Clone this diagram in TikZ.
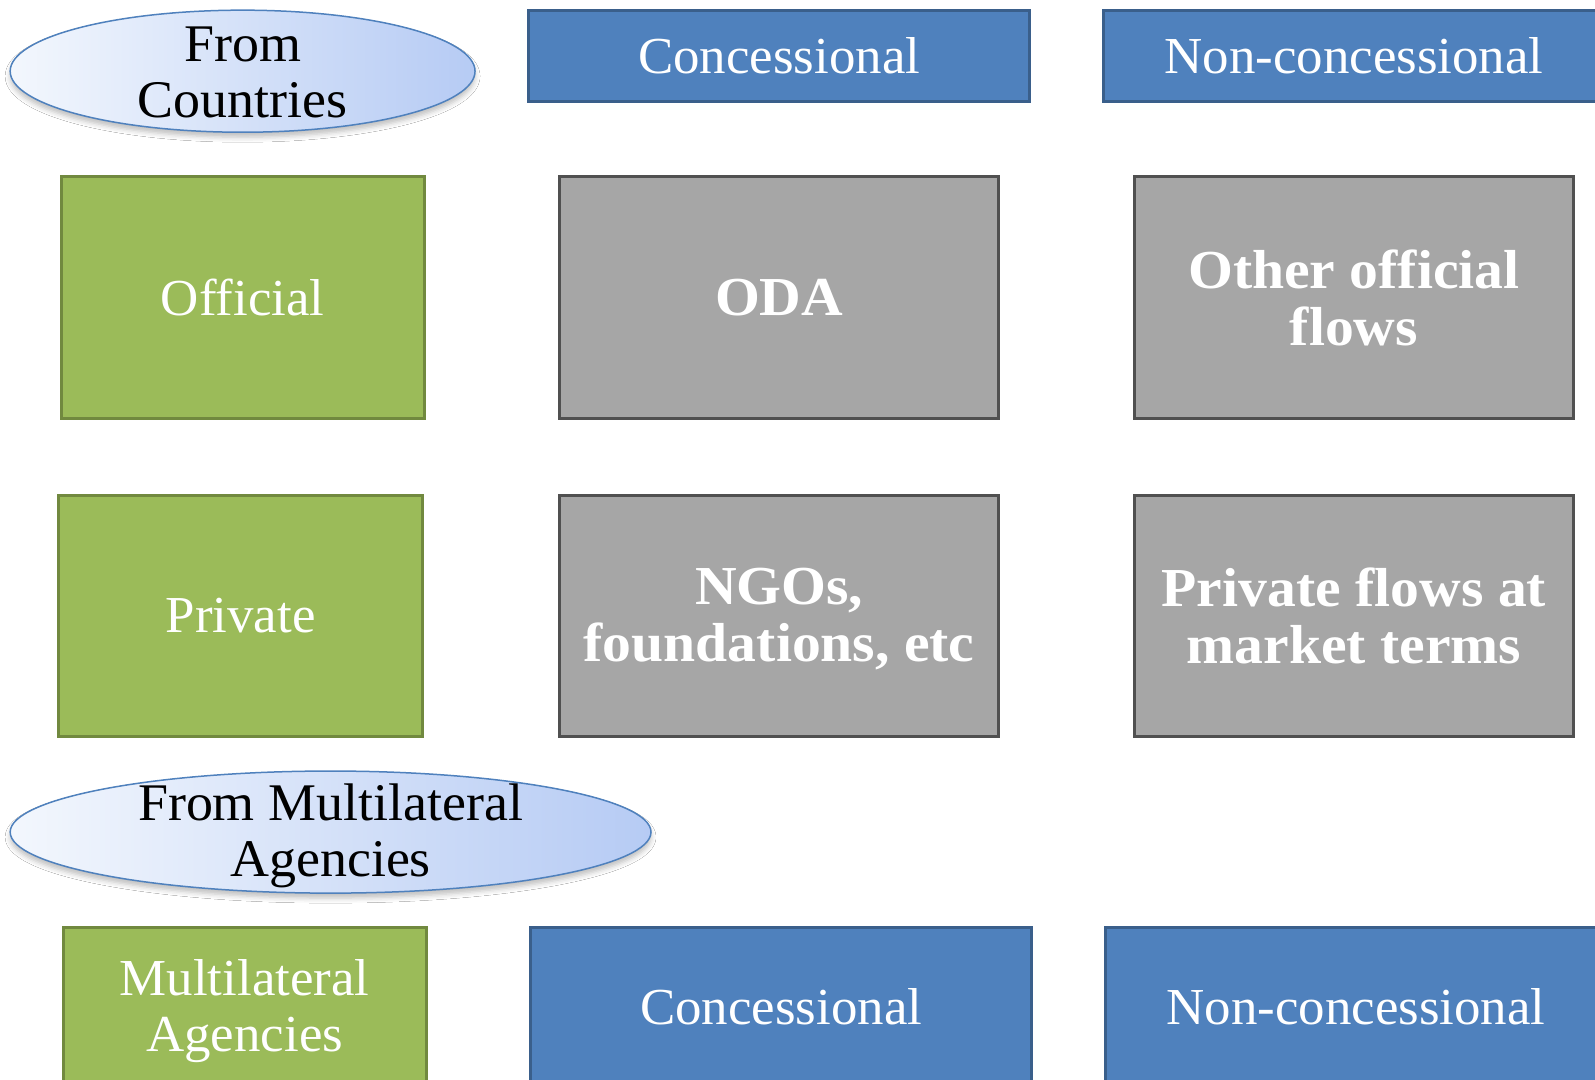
\documentclass[tikz,border=0pt]{standalone}
\usepackage{fontspec}
\setmainfont{Liberation Serif}
\newfontfamily\widebold{Liberation Serif Bold}[FakeStretch=1.05]
\newfontfamily\widereg{Liberation Serif}[FakeStretch=1.02]
\usetikzlibrary{shapes.geometric,shadows.blur}
\definecolor{boxblue}{HTML}{4F81BD}
\definecolor{boxblueline}{HTML}{3A5F8B}
\definecolor{boxgreen}{HTML}{9BBB59}
\definecolor{boxgreenline}{HTML}{71893F}
\definecolor{boxgray}{HTML}{A6A6A6}
\definecolor{boxgrayline}{HTML}{505050}
\definecolor{ellleft}{HTML}{F3F7FD}
\definecolor{ellright}{HTML}{B6CBF4}
\tikzset{
  txt/.style={align=center, text=white, font=\widereg\fontsize{51}{55}\selectfont},
  boldtxt/.style={align=center, text=white, font=\widebold\fontsize{54}{56}\selectfont},
  bluebox/.style={draw=boxblueline, fill=boxblue, line width=3pt},
  greenbox/.style={draw=boxgreenline, fill=boxgreen, line width=3pt},
  graybox/.style={draw=boxgrayline, fill=boxgray, line width=3pt},
  sized/.style 2 args={rectangle, minimum width=#1, minimum height=#2, inner sep=0pt},
  oval/.style={ellipse, draw=boxblue, line width=1.5pt, left color=ellleft, right color=ellright,
    inner sep=0pt,
    blur shadow={shadow xshift=0pt, shadow yshift=-5pt, shadow blur radius=5pt, shadow opacity=25}},
  ovaltxt/.style={align=center, text=black, inner sep=0pt, font=\widereg\fontsize{52}{55}\selectfont},
}
\begin{document}
\begin{tikzpicture}[x=1pt,y=-1pt,scale=1.0172,every node/.append style={transform shape}]
\useasboundingbox (0,0) rectangle (1568,1061.7);
\fill[white] (0,0) rectangle (1568,1061.7);
\begin{scope}
\clip (0,0) rectangle (1568,1061.7);
% header ellipse
\node[oval, minimum width=457, minimum height=120] (fromc) at (238.5,70) {};
\node[ovaltxt] (fromctxt) at (238.5,71) {From\\Countries};
% top header boxes
\node[bluebox, sized={492}{90}, txt] (conc1) at (766,55) {Concessional};
\draw[bluebox, overlay] (1085,10) rectangle (1620,100);
\node[txt] (nonc1) at (1331,55) {Non-concessional};
% row 1
\node[greenbox, sized={357}{237}, txt] (official) at (238.5,292.5) {Official};
\node[graybox, sized={432}{237}, boldtxt] (oda) at (766,292.5) {ODA};
\node[graybox, sized={432}{237}, boldtxt] (oof) at (1331,292.5) {Other official\\flows};
% row 2
\node[greenbox, sized={357}{237}, txt] (private) at (236.5,605.5) {Private};
\node[graybox, sized={432}{237}] (ngo) at (766,605.5) {};
\node[boldtxt] (ngotxt) at (766,609) {NGOs,\\foundations, etc};
\node[graybox, sized={432}{237}, boldtxt] (pfm) at (1331,605.5) {Private flows at\\market terms};
% multilateral ellipse
\node[oval, minimum width=630, minimum height=120] (fromm) at (325,818) {};
\node[ovaltxt] (frommtxt) at (325,822) {From Multilateral\\Agencies};
% bottom boxes
\draw[greenbox, overlay] (62,912) rectangle (419,1150);
\node[txt] (multi) at (240.5,994) {Multilateral\\Agencies};
\draw[bluebox, overlay] (522,912) rectangle (1014,1150);
\node[txt] (conc2) at (768,990) {Concessional};
\draw[bluebox, overlay] (1087,912) rectangle (1620,1150);
\node[txt] (nonc2) at (1333,990) {Non-concessional};
\end{scope}
\end{tikzpicture}
\end{document}
